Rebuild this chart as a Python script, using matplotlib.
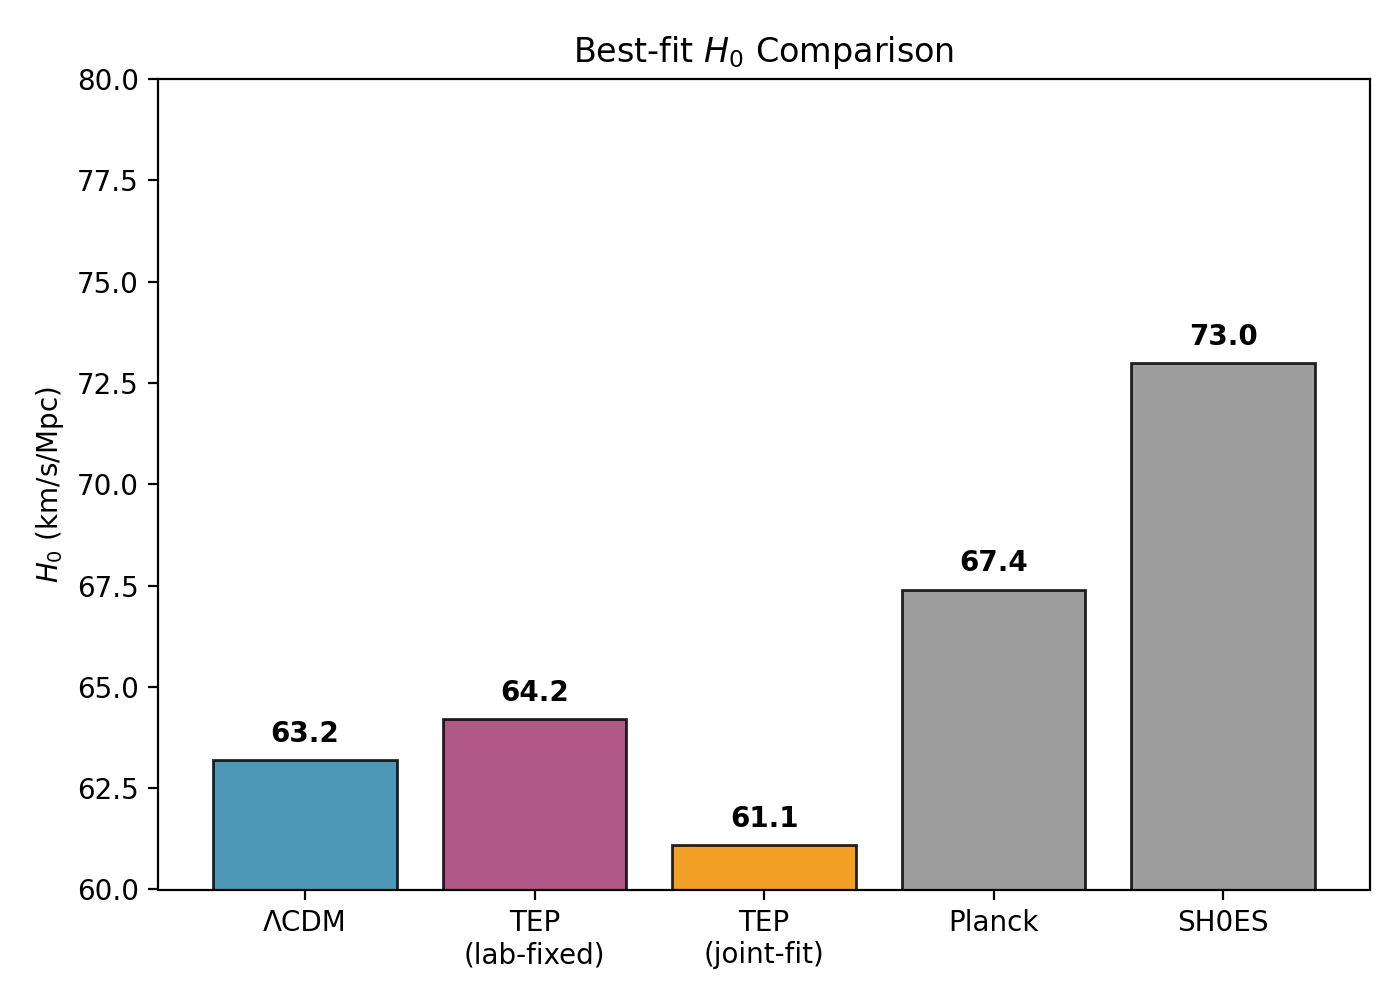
import matplotlib
matplotlib.use("Agg")
import matplotlib.pyplot as plt

models = ["ΛCDM", "TEP\n(lab-fixed)", "TEP\n(joint-fit)", "Planck", "SH0ES"]
h0_values = [63.2, 64.2, 61.1, 67.4, 73.0]
bar_colors = ["#2E86AB", "#A23B72", "#F18F01", "#8D8D8D", "#8D8D8D"]

fig, ax = plt.subplots(figsize=(7, 5), dpi=200)
fig.subplots_adjust(left=0.113, right=0.9785, top=0.921, bottom=0.1105)

bars = ax.bar(models, h0_values, color=bar_colors, edgecolor="black",
              linewidth=1.0, width=0.8, alpha=0.85)
for b, v in zip(bars, h0_values):
    ax.text(b.get_x() + b.get_width() / 2, v + 0.3, "{:.1f}".format(v),
            ha="center", va="bottom", fontweight="bold", fontsize=10)

ax.set_ylim(60, 80)
ax.set_ylabel("$H_0$ (km/s/Mpc)")
ax.set_title("Best-fit $H_0$ Comparison")

fig.savefig("out.png", dpi=200)
